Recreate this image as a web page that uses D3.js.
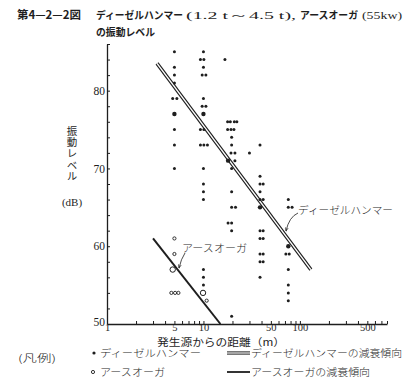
<!DOCTYPE html>
<html>
<head>
<meta charset="utf-8">
<script src="https://cdn.jsdelivr.net/npm/d3@7"></script>
<style>
body { margin: 0; background: #fff; }
svg { display: block; }
.serif { font-family: "Liberation Serif", "DejaVu Serif", serif; }
.jp { font-family: "Noto Sans CJK JP", sans-serif; }
</style>
</head>
<body>
<div id="chart"></div>
<script>
// ディーゼルハンマー measured points: [distance (m), level (dB)]
var hammerPoints = [
  [5,85],[5,83],[5,82],[5,81],[4.8,79],[5.3,79],[5,75],[5,73],[5,70],
  [10,85],[9.3,84],[10.1,84],[10,83],[9.7,82],[10.6,82],[10,79],[9.7,78],[10.6,78],
  [9.3,75],[10.1,75],[9.3,73],[10.1,73],[11,73],[10,70],[10,68],[10,67],[10,66],
  [10,57],[10,56],[10,55],
  [16.7,84],
  [17.8,76],[19,76],[20.9,76],[22.2,76],[17.8,75],[19.3,75],[20.7,75],[19.6,74],
  [19.6,73],[19.3,72],[21.2,72],[21.2,71],[19.6,70],[19.6,67],[19.6,65],[21.5,65],
  [18,63],[19.6,63],[19.6,62],[19.6,51],
  [30,72],
  [38.6,73],[38.6,69],[38.6,68],[41.6,68],[38.6,67],[38.6,66],[41.6,66],
  [38.6,62],[41.6,62],[38.6,61],[41.6,61],[38.6,59],[41.6,59],[38.6,58],[41.6,58],[38.6,56],
  [75.8,66],[75.8,65],[83,65],[71.5,59],[77.5,59],[75.8,57],[75.8,55],[75.8,54],[75.8,53]
];
// heavier (overlapping) hammer points
var hammerHeavy = [[5,77],[10,77],[18,71],[38.6,65],[75.8,60]];

// アースオーガ measured points
var augerPoints = [[5,61],[5,59],[4.65,54],[5.08,54],[5.5,54],[10.8,53]];
var augerHeavy = [[4.8,57],[9.9,54]];

// attenuation trends
var hammerTrend = [[3.3,83.5],[130,57]];
var augerTrend = [[3,61],[15,50]];

var xLabels = [1,5,10,50,100,500];
var xMinor = [1,2,3,4,5,6,7,8,9,10,20,30,40,50,60,70,80,90,100,200,300,400,500,600,700,800];
var yLabels = [50,60,70,80];
var yMinor = d3.range(50, 87, 2);

var width = 420, height = 386;
var ink = "#1e1e1e";

var svg = d3.select("#chart")
  .append("svg")
    .attr("width", width)
    .attr("height", height);

var x = d3.scaleLog()
  .domain([1, 800])
  .range([107, 387]);

var y = d3.scaleLinear()
  .domain([50, 86])
  .range([324, 44]);

// title
var title = svg.append("g").attr("fill", ink);
title.append("text").attr("class", "jp").attr("x", 17).attr("y", 19)
  .attr("font-size", 11.5).attr("font-weight", "bold")
  .attr("textLength", 64).attr("lengthAdjust", "spacingAndGlyphs")
  .text("第4—2—2図");
title.append("text").attr("class", "jp").attr("x", 96).attr("y", 19)
  .attr("font-size", 10.5).attr("font-weight", "bold")
  .attr("textLength", 87).attr("lengthAdjust", "spacingAndGlyphs")
  .text("ディーゼルハンマー");
title.append("text").attr("class", "serif").attr("x", 186).attr("y", 19)
  .attr("font-size", 10.5)
  .attr("textLength", 110).attr("lengthAdjust", "spacingAndGlyphs")
  .text("(1.2 t～4.5 t),");
title.append("text").attr("class", "jp").attr("x", 300).attr("y", 19)
  .attr("font-size", 10.5).attr("font-weight", "bold")
  .attr("textLength", 58).attr("lengthAdjust", "spacingAndGlyphs")
  .text("アースオーガ");
title.append("text").attr("class", "serif").attr("x", 362).attr("y", 19)
  .attr("font-size", 10.5)
  .attr("textLength", 40).attr("lengthAdjust", "spacingAndGlyphs")
  .text("(55kw)");
title.append("text").attr("class", "jp").attr("x", 96).attr("y", 36)
  .attr("font-size", 10.5).attr("font-weight", "bold")
  .attr("textLength", 59).attr("lengthAdjust", "spacingAndGlyphs")
  .text("の振動レベル");

// Add X axis (ticks point up)
var xAxis = svg.append("g")
  .attr("transform", "translate(0," + y(50) + ")")
  .call(d3.axisBottom(x)
    .tickValues(xMinor)
    .tickSizeInner(-3)
    .tickSizeOuter(0)
    .tickPadding(0)
    .tickFormat(function(d) { return xLabels.indexOf(d) >= 0 ? d : ""; }));
xAxis.select(".domain").attr("stroke", ink).attr("stroke-width", 1.3);
xAxis.selectAll(".tick line").attr("stroke", ink);
xAxis.selectAll(".tick text").attr("class", "serif").attr("font-size", 10.5).attr("fill", ink);
xAxis.selectAll(".tick").filter(function(d) { return d === 1; }).select("line").remove();
xAxis.selectAll(".tick").filter(function(d) { return xLabels.indexOf(d) < 0; }).select("text").remove();

// Add Y axis (ticks point right)
var yAxis = svg.append("g")
  .attr("transform", "translate(" + x(1) + ",0)")
  .call(d3.axisLeft(y)
    .tickValues(yMinor)
    .tickSizeInner(-3)
    .tickSizeOuter(0)
    .tickPadding(2)
    .tickFormat(function(d) { return yLabels.indexOf(d) >= 0 ? d : ""; }));
yAxis.select(".domain").attr("stroke", ink).attr("stroke-width", 1.3);
yAxis.selectAll(".tick line").attr("stroke", ink);
yAxis.selectAll(".tick text").attr("class", "serif").attr("font-size", 11.5).attr("fill", ink);
yAxis.selectAll(".tick").filter(function(d) { return d === 50; }).select("line").remove();
yAxis.selectAll(".tick").filter(function(d) { return yLabels.indexOf(d) < 0; }).select("text").remove();
// the 50 label sits a bit above the corner so the x "1" fits below it
yAxis.selectAll(".tick").filter(function(d) { return d === 50; }).select("text").attr("dy", "0.1em");

// axis titles (vertical y title)
svg.append("text").attr("class", "jp")
  .attr("x", 72).attr("y", 126)
  .attr("font-size", 10.5).attr("fill", ink)
  .style("writing-mode", "vertical-rl")
  .style("letter-spacing", "0.6px")
  .text("振動レベル");
svg.append("text").attr("class", "serif").attr("x", 72).attr("y", 206)
  .attr("text-anchor", "middle")
  .attr("font-size", 11).attr("fill", ink).text("(dB)");

svg.append("text").attr("class", "jp").attr("x", 157).attr("y", 346)
  .attr("font-size", 10.5).attr("fill", ink)
  .attr("textLength", 128).attr("lengthAdjust", "spacingAndGlyphs")
  .text("発生源からの距離（m）");

// trend lines
var line = d3.line()
  .x(function(d) { return x(d[0]); })
  .y(function(d) { return y(d[1]); });

svg.append("path").datum(hammerTrend)
  .attr("d", line).attr("fill", "none")
  .attr("stroke", ink).attr("stroke-width", 3.6);
svg.append("path").datum(hammerTrend)
  .attr("d", line).attr("fill", "none")
  .attr("stroke", "#fff").attr("stroke-width", 1.4);

svg.append("path").datum(augerTrend)
  .attr("d", line).attr("fill", "none")
  .attr("stroke", ink).attr("stroke-width", 2);

// Add dots
svg.append("g")
  .selectAll("circle")
  .data(hammerPoints)
  .enter()
  .append("circle")
    .attr("cx", function(d) { return x(d[0]); })
    .attr("cy", function(d) { return y(d[1]); })
    .attr("r", 1.5)
    .style("fill", ink);

svg.append("g")
  .selectAll("circle")
  .data(hammerHeavy)
  .enter()
  .append("circle")
    .attr("cx", function(d) { return x(d[0]); })
    .attr("cy", function(d) { return y(d[1]); })
    .attr("r", 2.2)
    .style("fill", ink);

svg.append("g")
  .selectAll("circle")
  .data(augerPoints)
  .enter()
  .append("circle")
    .attr("cx", function(d) { return x(d[0]); })
    .attr("cy", function(d) { return y(d[1]); })
    .attr("r", 1.6)
    .style("fill", "#fff")
    .style("stroke", ink)
    .style("stroke-width", 0.9);

svg.append("g")
  .selectAll("circle")
  .data(augerHeavy)
  .enter()
  .append("circle")
    .attr("cx", function(d) { return x(d[0]); })
    .attr("cy", function(d) { return y(d[1]); })
    .attr("r", 2.7)
    .style("fill", "#fff")
    .style("stroke", ink)
    .style("stroke-width", 1);

// annotations with leader arrows
svg.append("defs").append("marker")
  .attr("id", "arr").attr("viewBox", "0 0 10 10")
  .attr("refX", 9).attr("refY", 5)
  .attr("markerWidth", 5).attr("markerHeight", 5)
  .attr("orient", "auto")
  .append("path").attr("d", "M0,1L10,5L0,9").attr("fill", "none")
  .attr("stroke", ink).attr("stroke-width", 1.5);

svg.append("text").attr("class", "jp").attr("x", 298).attr("y", 214)
  .attr("font-size", 10.5).attr("font-weight", 300).attr("fill", ink)
  .attr("textLength", 95).attr("lengthAdjust", "spacingAndGlyphs")
  .text("ディーゼルハンマー");
svg.append("path")
  .attr("d", "M298,213 Q289,217 286,231")
  .attr("fill", "none").attr("stroke", ink).attr("stroke-width", 0.8)
  .attr("marker-end", "url(#arr)");

svg.append("text").attr("class", "jp").attr("x", 182).attr("y", 252)
  .attr("font-size", 10.5).attr("font-weight", 300).attr("fill", ink)
  .attr("textLength", 65).attr("lengthAdjust", "spacingAndGlyphs")
  .text("アースオーガ");
svg.append("path")
  .attr("d", "M185,253 Q181,259 179,268")
  .attr("fill", "none").attr("stroke", ink).attr("stroke-width", 0.8)
  .attr("marker-end", "url(#arr)");

// legend
var legend = svg.append("g").attr("class", "jp").attr("fill", ink)
  .attr("font-size", 10).attr("font-weight", 300);
legend.append("text").attr("x", 18).attr("y", 362)
  .attr("textLength", 38).attr("lengthAdjust", "spacingAndGlyphs").text("(凡例)");
legend.append("circle").attr("cx", 94).attr("cy", 353).attr("r", 1.6).attr("fill", ink);
legend.append("text").attr("x", 100).attr("y", 357)
  .attr("textLength", 101).attr("lengthAdjust", "spacingAndGlyphs").text("ディーゼルハンマー");
legend.append("circle").attr("cx", 93).attr("cy", 372).attr("r", 1.6)
  .attr("fill", "#fff").attr("stroke", ink).attr("stroke-width", 0.9);
legend.append("text").attr("x", 100).attr("y", 376)
  .attr("textLength", 65).attr("lengthAdjust", "spacingAndGlyphs").text("アースオーガ");

legend.append("line").attr("x1", 227).attr("x2", 250).attr("y1", 353).attr("y2", 353)
  .attr("stroke", ink).attr("stroke-width", 3.2);
legend.append("line").attr("x1", 227).attr("x2", 250).attr("y1", 353).attr("y2", 353)
  .attr("stroke", "#fff").attr("stroke-width", 1.2);
legend.append("text").attr("x", 251).attr("y", 357)
  .attr("textLength", 151).attr("lengthAdjust", "spacingAndGlyphs").text("ディーゼルハンマーの減衰傾向");
legend.append("line").attr("x1", 227).attr("x2", 250).attr("y1", 372).attr("y2", 372)
  .attr("stroke", ink).attr("stroke-width", 1.8);
legend.append("text").attr("x", 251).attr("y", 376)
  .attr("textLength", 119).attr("lengthAdjust", "spacingAndGlyphs").text("アースオーガの減衰傾向");
</script>
</body>
</html>
